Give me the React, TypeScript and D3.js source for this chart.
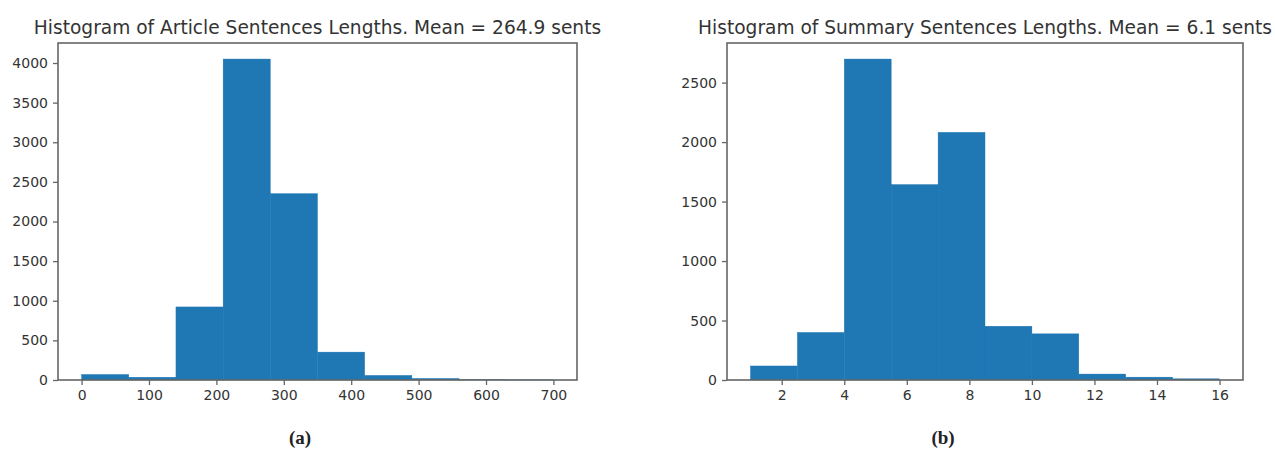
import { useEffect, useRef } from "react";
import * as d3 from "d3";

// ── Data ─────────────────────────────────────────────────────────────────────

const articleEdges = [0, 70, 140, 210, 280, 350, 420, 490, 560, 630, 700];
const articleCounts = [70, 35, 922, 4050, 2352, 352, 58, 20, 4, 2];
const articleXTicks = [0, 100, 200, 300, 400, 500, 600, 700];
const articleYTicks = [0, 500, 1000, 1500, 2000, 2500, 3000, 3500, 4000];
const articleTitle = "Histogram of Article Sentences Lengths. Mean = 264.9 sents";

const summaryEdges = [1, 2.5, 4, 5.5, 7, 8.5, 10, 11.5, 13, 14.5, 16];
const summaryCounts = [118, 400, 2698, 1643, 2082, 452, 388, 50, 24, 10];
const summaryXTicks = [2, 4, 6, 8, 10, 12, 14, 16];
const summaryYTicks = [0, 500, 1000, 1500, 2000, 2500];
const summaryTitle = "Histogram of Summary Sentences Lengths. Mean = 6.1 sents";

const BAR = "#1f77b4";
const SPINE = "#666";
const TEXT = "#333";
const FONT = "DejaVu Sans, sans-serif";

interface PanelProps {
  edges: number[];
  counts: number[];
  xTicks: number[];
  yTicks: number[];
  title: string;
  left: number;
  right: number;
  top: number;
  bottom: number;
  caption: string;
  captionX: number;
}

function Panel({ edges, counts, xTicks, yTicks, title, left, right, top, bottom, caption, captionX }: PanelProps) {
  const xAxisRef = useRef<SVGGElement>(null);
  const yAxisRef = useRef<SVGGElement>(null);

  // matplotlib-style 5% padding on x, 5% headroom on y
  const lo = edges[0];
  const hi = edges[edges.length - 1];
  const pad = (hi - lo) * 0.05;
  const x = d3.scaleLinear().domain([lo - pad, hi + pad]).range([left, right]);
  const y = d3.scaleLinear().domain([0, (d3.max(counts) ?? 1) * 1.05]).range([bottom, top]);

  useEffect(() => {
    if (!xAxisRef.current || !yAxisRef.current) return;

    const style = (ag: d3.Selection<SVGGElement, unknown, null, undefined>) => {
      ag.select(".domain").remove();
      ag.selectAll(".tick line").attr("stroke", SPINE).attr("stroke-width", 1.3);
      ag.selectAll(".tick text")
        .attr("fill", TEXT)
        .attr("font-size", 14)
        .attr("font-family", FONT);
    };

    d3.select(xAxisRef.current)
      .call(d3.axisBottom(x).tickValues(xTicks).tickSize(5).tickPadding(5).tickFormat(d3.format("d")))
      .call(style);

    d3.select(yAxisRef.current)
      .call(d3.axisLeft(y).tickValues(yTicks).tickSize(5).tickPadding(5).tickFormat(d3.format("d")))
      .call(style);
  }, [edges, counts, xTicks, yTicks, left, right, top, bottom]);

  return (
    <g>
      {counts.map((c, i) => (
        <rect
          key={i}
          x={x(edges[i])}
          y={y(c)}
          width={x(edges[i + 1]) - x(edges[i])}
          height={bottom - y(c)}
          fill={BAR}
          stroke={BAR}
          strokeWidth={0.4}
        />
      ))}
      <rect
        x={left}
        y={top}
        width={right - left}
        height={bottom - top}
        fill="none"
        stroke={SPINE}
        strokeWidth={1.6}
      />
      <g ref={xAxisRef} transform={`translate(0,${bottom})`} />
      <g ref={yAxisRef} transform={`translate(${left},0)`} />
      <text
        x={(left + right) / 2}
        y={top - 9}
        textAnchor="middle"
        fontFamily={FONT}
        fontSize={18.6}
        fill={TEXT}
      >
        {title}
      </text>
      <text
        x={captionX}
        y={444}
        textAnchor="middle"
        fontFamily="Liberation Serif, serif"
        fontWeight="bold"
        fontSize={19}
        fill="#222"
      >
        {caption}
      </text>
    </g>
  );
}

export default function App() {
  return (
    <div style={{ position: "absolute", left: 0, top: 0 }}>
      <svg width={1275} height={451} style={{ display: "block", background: "#fff" }}>
        <Panel
          edges={articleEdges}
          counts={articleCounts}
          xTicks={articleXTicks}
          yTicks={articleYTicks}
          title={articleTitle}
          left={58}
          right={577}
          top={43}
          bottom={380}
          caption="(a)"
          captionX={300}
        />
        <Panel
          edges={summaryEdges}
          counts={summaryCounts}
          xTicks={summaryXTicks}
          yTicks={summaryYTicks}
          title={summaryTitle}
          left={727}
          right={1243}
          top={43}
          bottom={380}
          caption="(b)"
          captionX={943}
        />
      </svg>
    </div>
  );
}
